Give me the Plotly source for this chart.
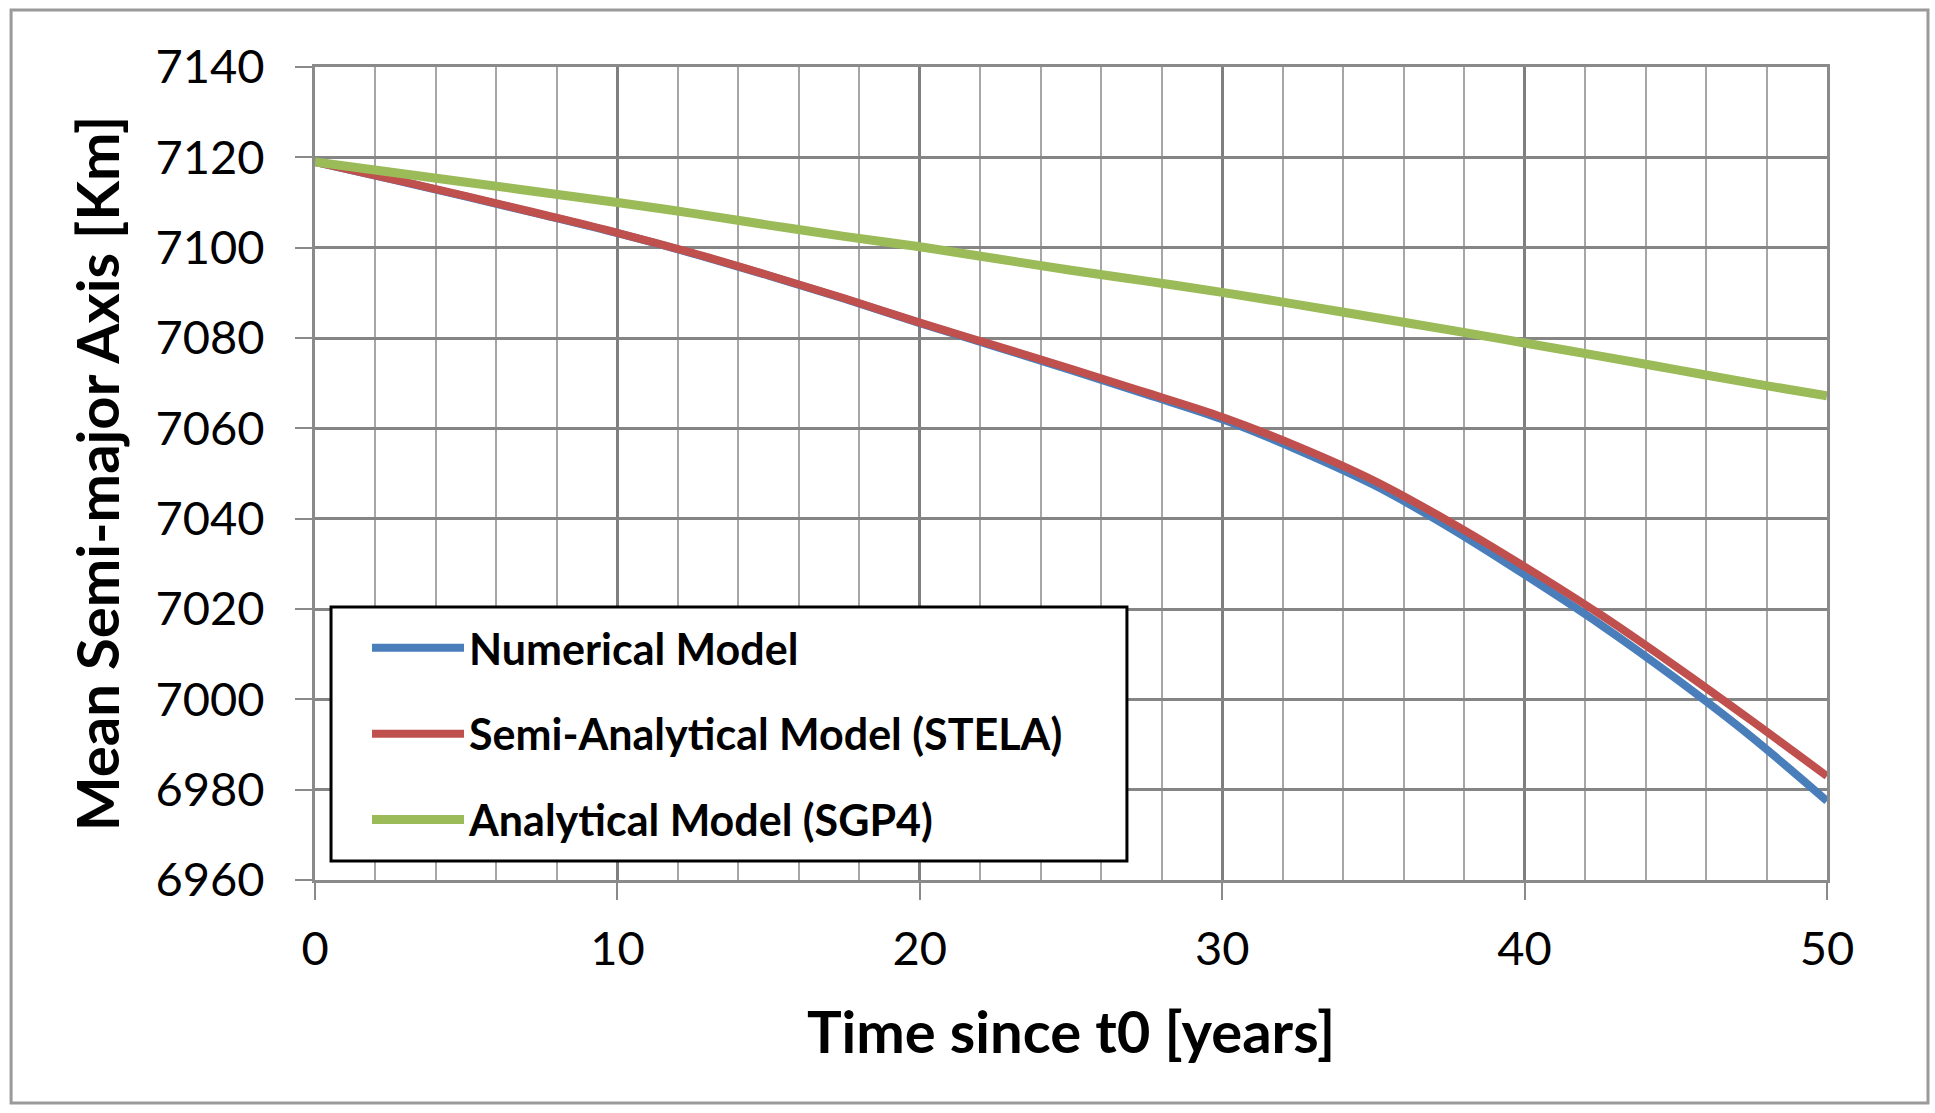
import plotly.graph_objects as go

# ---- data ----
years = [0, 2.5, 5, 7.5, 10, 12.5, 15, 17.5, 20, 22.5, 25, 27.5, 30,
         32.5, 35, 37.5, 40, 42.5, 45, 47.5, 50]
numerical = [7119, 7115.2, 7111.3, 7107.3, 7103.2, 7098.7, 7093.8, 7088.7, 7083.3,
             7078.1, 7072.9, 7067.5, 7062.0, 7055.2, 7047.5, 7038.1, 7027.6,
             7016.6, 7004.6, 6991.7, 6977.5]
stela = [7119, 7115.25, 7111.4, 7107.4, 7103.3, 7098.8, 7093.9, 7088.8, 7083.4,
         7078.3, 7073.2, 7067.9, 7062.5, 7056.0, 7048.5, 7039.4, 7029.4,
         7018.8, 7007.3, 6995.3, 6983.0]
sgp4_years = [0, 5, 10, 12.5, 15, 17.5, 20, 22.5, 25, 27.5, 30,
              32.5, 35, 37.5, 40, 42.5, 45, 47.5, 50]
sgp4 = [7119, 7114.5, 7110.0, 7107.6, 7105.0, 7102.5, 7100.2, 7097.6, 7095.0, 7092.6,
        7090.1, 7087.4, 7084.6, 7081.8, 7078.9, 7076.0, 7073.0, 7070.0, 7067.2]

series_names = ["Numerical Model", "Semi-Analytical Model (STELA)", "Analytical Model (SGP4)"]
colors = ["#4A7EBB", "#C0504D", "#9BBB59"]

x_ticks = [0, 10, 20, 30, 40, 50]
y_ticks = [6960, 6980, 7000, 7020, 7040, 7060, 7080, 7100, 7120, 7140]

FONT = "Lato"

fig = go.Figure()
fig.add_trace(go.Scatter(x=years, y=numerical, mode="lines", name=series_names[0],
                         legendgroup="a", line=dict(color=colors[0], width=8, shape="spline")))
fig.add_trace(go.Scatter(x=years, y=stela, mode="lines", name=series_names[1],
                         legendgroup="b", line=dict(color=colors[1], width=8, shape="spline")))
fig.add_trace(go.Scatter(x=sgp4_years, y=sgp4, mode="lines", name=series_names[2],
                         legendgroup="c", line=dict(color=colors[2], width=9, shape="spline")))

fig.update_layout(
    width=1935, height=1113, autosize=False,
    margin=dict(l=315, r=108, t=67, b=233),
    paper_bgcolor="white", plot_bgcolor="white",
    font=dict(family=FONT, color="black"),
    legend=dict(
        x=0.0344, y=0.328, xanchor="left", yanchor="top",
        bgcolor="rgba(0,0,0,0)", borderwidth=0,
        font=dict(family=FONT, size=43, color="black", weight="bold"),
        tracegroupgap=27, itemwidth=92,
    ),
    xaxis=dict(
        range=[0, 50], tickvals=x_ticks, ticks="outside", ticklen=17, tickwidth=2,
        tickcolor="#8a8a8a", ticklabelstandoff=9,
        showgrid=True, gridcolor="#7f7f7f", gridwidth=3,
        minor=dict(dtick=2, showgrid=True, gridcolor="#a6a6a6", gridwidth=2),
        showline=True, linecolor="#8a8a8a", linewidth=3, mirror=True,
        tickfont=dict(family=FONT, size=47, color="black"),
        title=dict(text="<b>Time since t0 [years]</b>", font=dict(family=FONT, size=58, color="black"),
                   standoff=38),
        zeroline=False,
    ),
    yaxis=dict(
        range=[6960, 7140], tickvals=y_ticks, ticks="outside", ticklen=17, tickwidth=2,
        tickcolor="#8a8a8a", ticklabelstandoff=21,
        showgrid=True, gridcolor="#858585", gridwidth=3,
        showline=True, linecolor="#8a8a8a", linewidth=3, mirror=True,
        tickfont=dict(family=FONT, size=47, color="black"),
        title=dict(text="<b>Mean Semi-major Axis [Km]</b>", font=dict(family=FONT, size=58, color="black"),
                   standoff=18),
        zeroline=False,
    ),
    shapes=[
        dict(type="rect", xref="paper", yref="paper",
             x0=-0.201, x1=1.0668, y0=-0.2743, y1=1.0701,
             line=dict(color="#9a9a9a", width=3), fillcolor="rgba(0,0,0,0)", layer="below"),
        dict(type="rect", xref="paper", yref="paper",
             x0=0.0106, x1=0.537, y0=0.0234, y1=0.3358,
             line=dict(color="black", width=3), fillcolor="white", layer="above"),
    ],
)

fig.write_html("out.html")
